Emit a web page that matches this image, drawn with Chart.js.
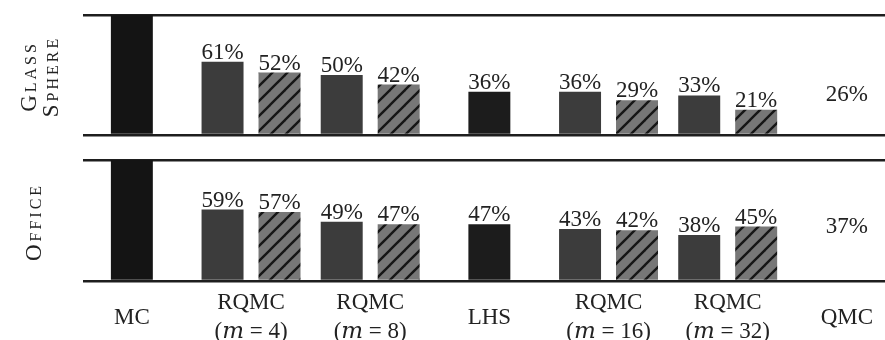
<!DOCTYPE html>
<html>
<head>
<meta charset="utf-8">
<script src="https://cdn.jsdelivr.net/npm/chart.js@4/dist/chart.umd.min.js"></script>
<style>
  html, body { margin: 0; padding: 0; background: #fff; overflow: hidden; width: 885px; height: 340px; }
  #wrap { position: relative; width: 885px; height: 340px; overflow: hidden; }
  canvas { position: absolute; left: 0; }
  #glass { top: 0; }
  #office { top: 145px; }
</style>
</head>
<body>
<div id="wrap">
  <canvas id="glass" width="885" height="150"></canvas>
  <canvas id="office" width="885" height="224"></canvas>
</div>
<script>
// Sampling methods along the x axis (multi-line tick labels)
const methods = [
  ['MC'],
  ['RQMC', '(𝑚 = 4)'],
  ['RQMC', '(𝑚 = 8)'],
  ['LHS'],
  ['RQMC', '(𝑚 = 16)'],
  ['RQMC', '(𝑚 = 32)'],
  ['QMC']
];

// Cost relative to MC, in percent.
// "single": methods drawn with one bar; "plain"/"hatched": the two RQMC variants.
const glassSingle   = [100, null, null, 36, null, null, 26];
const glassPlain    = [null, 61, 50, null, 36, 33, null];
const glassHatched  = [null, 52, 42, null, 29, 21, null];

const officeSingle  = [100, null, null, 47, null, null, 37];
const officePlain   = [null, 59, 49, null, 43, 38, null];
const officeHatched = [null, 57, 47, null, 42, 45, null];

// Fill for the single bars (QMC has no visible bar, only its label)
const singleColors = ['#141414', null, null, '#1c1c1c', null, null, 'rgba(0,0,0,0)'];

const SERIF = '"Liberation Serif", "DejaVu Serif", serif';
const INK = '#222';

// Diagonal hatch used for the second RQMC variant
function makeHatch() {
  const w = 15, h = 15;
  const c = document.createElement('canvas');
  c.width = w; c.height = h;
  const g = c.getContext('2d');
  g.fillStyle = '#777777';
  g.fillRect(0, 0, w, h);
  g.strokeStyle = '#161616';
  g.lineWidth = 2.4;
  for (const dx of [-w, 0, w]) {
    g.beginPath();
    g.moveTo(dx - w, 2 * h);
    g.lineTo(dx + 2 * w, -h);
    g.stroke();
  }
  return g.createPattern(c, 'repeat');
}
const hatch = makeHatch();

const toPoints = arr => arr.map((v, i) => ({ x: i, y: v })).filter(p => p.y !== null);

// Percentage printed above each bar (the MC reference bar carries none)
const valueLabels = {
  id: 'valueLabels',
  afterDatasetsDraw(chart) {
    const ctx = chart.ctx;
    ctx.save();
    ctx.font = '23px ' + SERIF;
    ctx.fillStyle = INK;
    ctx.textAlign = 'center';
    ctx.textBaseline = 'alphabetic';
    chart.data.datasets.forEach((ds, di) => {
      const meta = chart.getDatasetMeta(di);
      meta.data.forEach((bar, i) => {
        const v = ds.data[i].y;
        if (v >= 100) return;
        ctx.fillText(v + '%', bar.x, bar.y - 3);
      });
    });
    ctx.restore();
  }
};

// Scene name written vertically at the left of each panel
const panelName = {
  id: 'panelName',
  afterDraw(chart, args, opts) {
    const ctx = chart.ctx;
    const yc = (chart.chartArea.top + chart.chartArea.bottom) / 2;
    ctx.save();
    ctx.font = 'small-caps 23px ' + SERIF;
    if ('letterSpacing' in ctx) ctx.letterSpacing = '3px';
    ctx.fillStyle = INK;
    ctx.textAlign = 'center';
    ctx.textBaseline = 'middle';
    opts.lines.forEach((line, k) => {
      ctx.save();
      ctx.translate(opts.x[k], yc + 1.5);
      ctx.rotate(-Math.PI / 2);
      ctx.fillText(line, 0, 0);
      ctx.restore();
    });
    ctx.restore();
  }
};

function makePanel(id, nameLines, nameX, single, plain, hatched, showAxis) {
  return new Chart(document.getElementById(id), {
    type: 'bar',
    data: {
      datasets: [
        {
          data: toPoints(single),
          grouped: false,
          backgroundColor: ctx => singleColors[ctx.raw ? ctx.raw.x : 0] || '#141414',
          categoryPercentage: 1,
          barPercentage: 0.352
        },
        {
          data: toPoints(plain),
          backgroundColor: '#3c3c3c',
          categoryPercentage: 0.956,
          barPercentage: 0.737
        },
        {
          data: toPoints(hatched),
          backgroundColor: hatch,
          categoryPercentage: 0.956,
          barPercentage: 0.737
        }
      ]
    },
    options: {
      responsive: false,
      animation: false,
      events: [],
      layout: { padding: { left: 83, right: 0, top: 15, bottom: showAxis ? 1 : 15 } },
      plugins: {
        legend: { display: false },
        tooltip: { enabled: false },
        panelName: { lines: nameLines, x: nameX }
      },
      scales: {
        x: {
          type: 'linear',
          offset: false,
          min: -0.41,
          max: 6.32,
          display: showAxis,
          grid: { display: false, drawTicks: false },
          border: { display: false },
          afterFit(scale) {
            if (!showAxis) return;
            // fixed band for the method names below the lower panel
            scale.height = 87;
            scale.paddingLeft = 0;
            scale.paddingRight = 0;
          },
          ticks: {
            stepSize: 1,
            includeBounds: false,
            autoSkip: false,
            maxRotation: 0,
            minRotation: 0,
            padding: 22,
            crossAlign: 'center',
            color: INK,
            font: { family: SERIF, size: 23, lineHeight: 1.28 },
            callback: v => methods[v]
          }
        },
        y: {
          min: 0,
          max: 100,
          ticks: { display: false, stepSize: 100 },
          border: { display: false },
          grid: { color: '#1e1e1e', lineWidth: 2.5, drawTicks: false }
        }
      }
    },
    plugins: [valueLabels, panelName]
  });
}

makePanel('glass', ['Glass', 'Sphere'], [30, 52], glassSingle, glassPlain, glassHatched, false);
makePanel('office', ['Office'], [35], officeSingle, officePlain, officeHatched, true);
</script>
</body>
</html>
